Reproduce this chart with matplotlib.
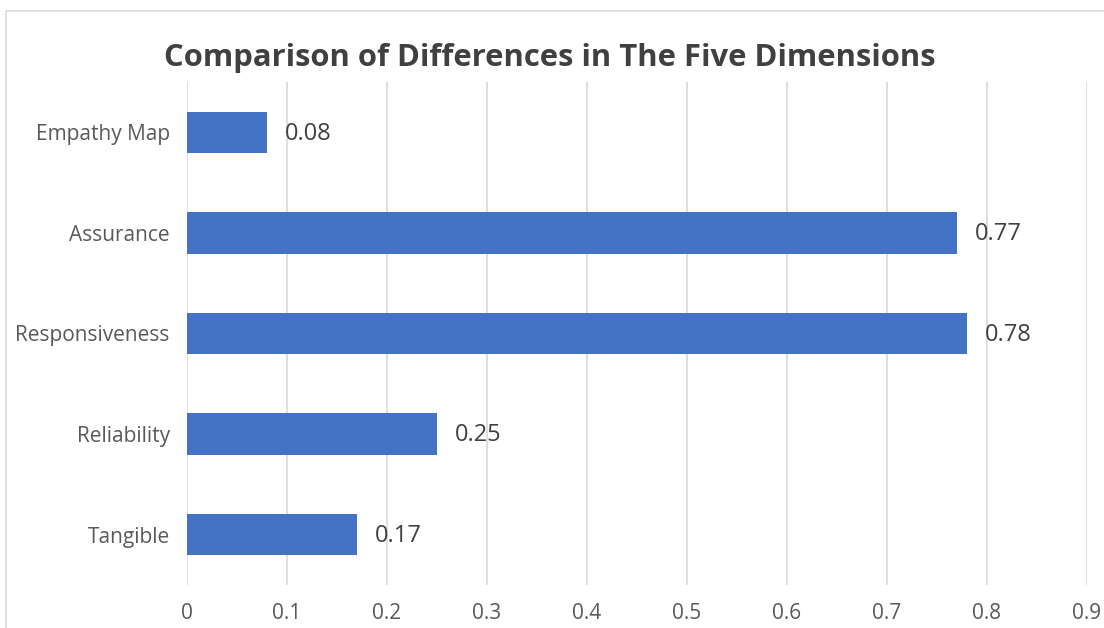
import matplotlib
matplotlib.use("Agg")
import matplotlib.pyplot as plt
from matplotlib.patches import Rectangle

categories = ["Tangible", "Reliability", "Responsiveness", "Assurance", "Empathy Map"]
values = [0.17, 0.25, 0.78, 0.77, 0.08]
value_labels = ["0.17", "0.25", "0.78", "0.77", "0.08"]
xticks = [0, 0.1, 0.2, 0.3, 0.4, 0.5, 0.6, 0.7, 0.8, 0.9]
xtick_labels = ["0", "0.1", "0.2", "0.3", "0.4", "0.5", "0.6", "0.7", "0.8", "0.9"]
title = "Comparison of Differences in The Five Dimensions"

plt.rcParams['font.family'] = ['Open Sans', 'DejaVu Sans']

W, H = 1104, 628
fig = plt.figure(figsize=(W / 100, H / 100), dpi=100)
fig.patch.set_facecolor("white")

# outer chart border (cropped on right/bottom)
fig.patches.append(Rectangle((6 / W, -0.1), 1.2, 1 - 11 / H + 0.1, transform=fig.transFigure,
                             fill=False, edgecolor="#d9d9d9", linewidth=1.2))

ax = fig.add_axes([187 / W, 1 - 585 / H, 900 / W, (585 - 82) / H])
y = list(range(len(categories)))
ax.barh(y, values, height=0.41, color="#4472C4", zorder=3)
ax.set_xlim(0, 0.9)
ax.set_ylim(-0.5, len(categories) - 0.5)
ax.set_xticks(xticks)
ax.set_xticklabels(xtick_labels)
ax.set_yticks(y)
ax.set_yticklabels(categories)
ax.grid(axis="x", color="#d9d9d9", linewidth=1.2, zorder=0)
for s in ax.spines.values():
    s.set_visible(False)
ax.tick_params(axis="both", length=0, labelcolor="#595959")
ax.tick_params(axis="x", pad=13, labelsize=15)
ax.tick_params(axis="y", pad=12.5, labelsize=15)

for yi, v, lab in zip(y, values, value_labels):
    ax.annotate(lab, (v, yi), xytext=(13, -1), textcoords="offset points",
                va="center", ha="left", fontsize=17, color="#404040")

fig.text(550 / W, 1 - 58 / H, title, ha="center", va="center", fontsize=22.3,
         fontweight="bold", color="#404040")

fig.savefig("out.png", dpi=100)
